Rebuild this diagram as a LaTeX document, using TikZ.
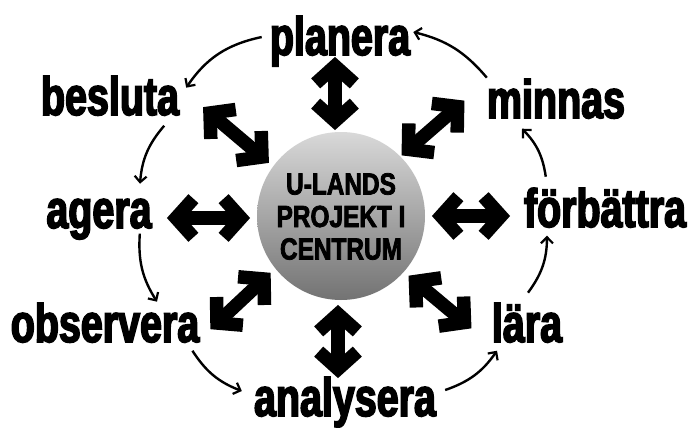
\documentclass[tikz,border=0pt]{standalone}
\usepackage{fontspec}
\setmainfont{Liberation Sans}
\newfontfamily\labfont[FakeStretch=0.73,FakeBold=3]{Liberation Sans}
\newfontfamily\ctrfont[FakeStretch=0.8,FakeBold=2.5]{Liberation Sans}
\usetikzlibrary{calc,arrows.meta}
\tikzset{
  lab/.style={font={\labfont\bfseries\fontsize{54}{54}\selectfont}, anchor=base, inner sep=3pt},
  fat/.style={line width=13.5pt, line join=miter, miter limit=10},
  flow/.style={line width=2.4pt, -{Straight Barb[length=6pt,width=12pt,line width=2.2pt]}},
}
\newcommand\fatarrow[2]{%
  \draw[fat] (#1) -- (#2);
  \draw[fat] ($(#1)!26pt!48:(#2)$) -- (#1) -- ($(#1)!26pt!-48:(#2)$);
  \draw[fat] ($(#2)!26pt!48:(#1)$) -- (#2) -- ($(#2)!26pt!-48:(#1)$);}
\begin{document}
\begin{tikzpicture}[x=1pt,y=-1pt]
  \fill[white] (0,0) rectangle (693,428);
  \useasboundingbox (0,0) rectangle (693,428);
  % centre
  \node[circle, minimum size=168pt, inner sep=0pt, top color=black!15, bottom color=black!55] (ctr) at (341,216) {};
  \node[align=center, font={\ctrfont\bfseries\fontsize{30.5}{32.5}\selectfont}, inner sep=0pt] (ctrtext) at (341,216.5) {U-LANDS\\PROJEKT I\\CENTRUM};
  % labels
  \node[lab] (planera) at (340,55) {planera};
  \node[lab] (besluta) at (110,115) {besluta};
  \node[lab] (agera) at (99,228) {agera};
  \node[lab] (observera) at (105,342) {observera};
  \node[lab] (analysera) at (345,416) {analysera};
  \node[lab] (lara) at (527,342) {lära};
  \node[lab] (forbattra) at (605,227) {förbättra};
  \node[lab] (minnas) at (556,118) {minnas};
  % fat double arrows
  \coordinate (upA) at (335,66);   \coordinate (upB) at (335,121);
  \coordinate (dnA) at (338,314);  \coordinate (dnB) at (338,369);
  \coordinate (ltA) at (176,218);  \coordinate (ltB) at (241,218);
  \coordinate (rtA) at (441,216);  \coordinate (rtB) at (501,216);
  \coordinate (ulA) at (210,113);  \coordinate (ulB) at (262,157);
  \coordinate (urA) at (457.6,106.6); \coordinate (urB) at (408.4,149.4);
  \coordinate (llA) at (217,323);  \coordinate (llB) at (264,279);
  \coordinate (lrA) at (415.5,281.5); \coordinate (lrB) at (464.5,322.5);
  \fatarrow{upA}{upB}
  \fatarrow{dnA}{dnB}
  \fatarrow{ltA}{ltB}
  \fatarrow{rtA}{rtB}
  \fatarrow{ulA}{ulB}
  \fatarrow{urA}{urB}
  \fatarrow{llA}{llB}
  \fatarrow{lrA}{lrB}
  % cycle
  \draw[flow] ([shift={(-5,-4)}]planera.west) to[bend right=22] ([shift={(4,-8)}]besluta.east);
  \draw[flow] ([shift={(-18,7)}]besluta.south east) to[bend right=18] ([shift={(41,-12)}]agera.north);
  \draw[flow] ([shift={(-15,-9)}]agera.south east) to[bend right=18] ([shift={(52,2)}]observera.north);
  \draw[flow] ([shift={(-10,5)}]observera.south east) to[bend right=18] ([shift={(-9,-11)}]analysera.west);
  \draw[flow] ([shift={(6,-12)}]analysera.east) to[bend right=18] ([shift={(-30,5)}]lara.south);
  \draw[flow] ([shift={(1,-7)}]lara.north) to[bend right=18] ([shift={(-58,5)}]forbattra.south);
  \draw[flow] ([shift={(25,-8)}]forbattra.north west) to[bend right=18] ([shift={(-34,7)}]minnas.south);
  \draw[flow] ([shift={(3,2)}]minnas.north west) to[bend right=18] ([shift={(0,-9)}]planera.east);
\end{tikzpicture}
\end{document}
